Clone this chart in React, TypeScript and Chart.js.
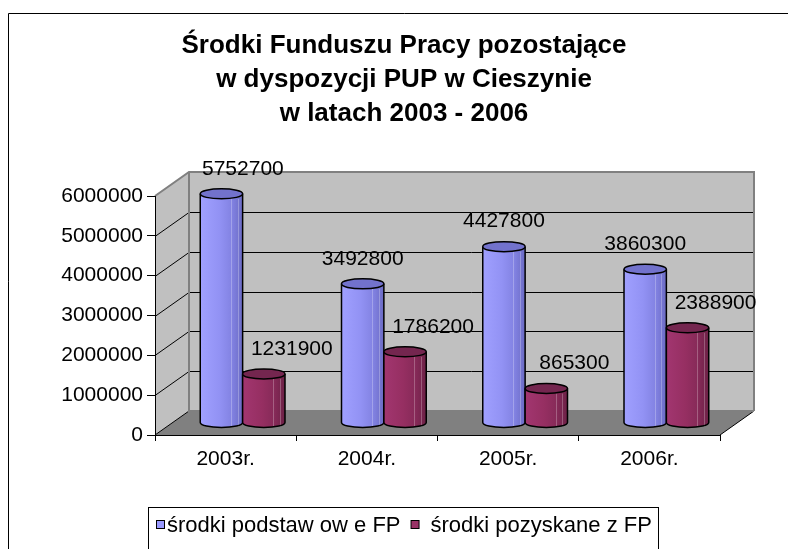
import React, { useEffect, useRef } from "react";
import { Chart, registerables } from "chart.js";

Chart.register(...registerables);

// ---- data ----
const categories = ["2003r.", "2004r.", "2005r.", "2006r."];
const seriesNames = ["środki podstaw ow e FP", "środki pozyskane z FP"];
const basicFunds = [5752700, 3492800, 4427800, 3860300];
const obtainedFunds = [1231900, 1786200, 865300, 2388900];
const yMin = 0;
const yMax = 6000000;
const yStep = 1000000;
const titleLines = [
  "Środki Funduszu Pracy pozostające",
  "w dyspozycji PUP w Cieszynie",
  "w latach 2003 - 2006",
];

// ---- styles ----
const FONT = '"Liberation Sans", Arial, sans-serif';
const W = 792;
const H = 541;
const DX = 34;
const DY = -24;
const seriesStyle = [
  { stops: ["#a0a0ff", "#9292f4", "#8282e2", "#6b6bc4"], cap: "#7272cc", legend: "#9999ff", labelDx: 0 },
  { stops: ["#a23670", "#962f62", "#862a58", "#6c2146"], cap: "#74264f", legend: "#993366", labelDx: 28 },
];

function threeDPlugin() {
  return {
    id: "threeD",
    beforeDraw(chart: any) {
      const { ctx, chartArea: a } = chart;
      const ys = chart.scales.y;
      const L = a.left, R = a.right, T = a.top, B = a.bottom;
      ctx.save();
      // outer chart border
      ctx.strokeStyle = "#000";
      ctx.lineWidth = 1;
      ctx.beginPath();
      ctx.moveTo(0.5, chart.height);
      ctx.lineTo(0.5, 5.5);
      ctx.lineTo(chart.width, 5.5);
      ctx.stroke();

      const poly = (pts: number[][], fill: string) => {
        ctx.beginPath();
        ctx.moveTo(pts[0][0], pts[0][1]);
        for (let i = 1; i < pts.length; i++) ctx.lineTo(pts[i][0], pts[i][1]);
        ctx.closePath();
        ctx.fillStyle = fill;
        ctx.fill();
      };
      // walls
      poly([[L, T], [L + DX, T + DY], [L + DX, B + DY], [L, B]], "#c0c0c0");
      poly([[L + DX, T + DY], [R + DX, T + DY], [R + DX, B + DY], [L + DX, B + DY]], "#c0c0c0");
      poly([[L, B], [L + DX, B + DY], [R + DX, B + DY], [R, B]], "#808080");

      // gridlines
      ctx.strokeStyle = "#000";
      ctx.lineWidth = 1;
      for (let v = yMin + yStep; v < yMax; v += yStep) {
        const yy = Math.round(ys.getPixelForValue(v)) + 0.5;
        ctx.beginPath();
        ctx.moveTo(L, yy);
        ctx.lineTo(L + DX, yy + DY);
        ctx.lineTo(R + DX, yy + DY);
        ctx.stroke();
      }
      // floor edges
      ctx.beginPath();
      ctx.moveTo(L, B);
      ctx.lineTo(L + DX, B + DY);
      ctx.moveTo(R, B);
      ctx.lineTo(R + DX, B + DY);
      ctx.stroke();

      // wall borders
      ctx.strokeStyle = "#808080";
      ctx.lineWidth = 2;
      ctx.beginPath();
      ctx.moveTo(L, T);
      ctx.lineTo(L + DX, T + DY);
      ctx.lineTo(R + DX, T + DY);
      ctx.lineTo(R + DX, B + DY);
      ctx.moveTo(L + DX, T + DY);
      ctx.lineTo(L + DX, B + DY);
      ctx.lineTo(R + DX, B + DY);
      ctx.stroke();

      // title
      ctx.fillStyle = "#000";
      ctx.font = `bold 26px ${FONT}`;
      ctx.textAlign = "center";
      ctx.textBaseline = "alphabetic";
      titleLines.forEach((t, i) => ctx.fillText(t, 396, 45 + i * 34));
      ctx.restore();
    },
    afterDatasetsDraw(chart: any) {
      const { ctx, chartArea: a } = chart;
      const hx = DX / 2, hy = DY / 2;
      const ry = 5;
      ctx.save();
      const labels: any[] = [];
      chart.data.datasets.forEach((ds: any, di: number) => {
        const meta = chart.getDatasetMeta(di);
        const st = seriesStyle[di];
        meta.data.forEach((el: any, i: number) => {
          const p = el.getProps(["x", "y", "base", "width"], true);
          const cx = p.x + hx;
          const top = p.y + hy;
          const bot = p.base + hy;
          const rx = p.width / 2;
          const g = ctx.createLinearGradient(cx - rx, 0, cx + rx, 0);
          g.addColorStop(0, st.stops[0]);
          g.addColorStop(0.45, st.stops[1]);
          g.addColorStop(0.75, st.stops[2]);
          g.addColorStop(1, st.stops[3]);
          ctx.beginPath();
          ctx.moveTo(cx - rx, top);
          ctx.lineTo(cx - rx, bot);
          ctx.ellipse(cx, bot, rx, ry, 0, Math.PI, 0, true);
          ctx.lineTo(cx + rx, top);
          ctx.ellipse(cx, top, rx, ry, 0, 0, Math.PI, false);
          ctx.closePath();
          ctx.fillStyle = g;
          ctx.fill();
          // facet lines
          ctx.strokeStyle = "rgba(255,255,255,0.25)";
          ctx.lineWidth = 1;
          [0.72, 0.88].forEach((f) => {
            const fx = Math.round(cx - rx + f * 2 * rx) + 0.5;
            ctx.beginPath();
            ctx.moveTo(fx, top + ry);
            ctx.lineTo(fx, bot + ry - 1);
            ctx.stroke();
          });
          ctx.strokeStyle = "#000";
          ctx.lineWidth = 1.5;
          ctx.beginPath();
          ctx.moveTo(cx - rx, top);
          ctx.lineTo(cx - rx, bot);
          ctx.ellipse(cx, bot, rx, ry, 0, Math.PI, 0, true);
          ctx.lineTo(cx + rx, top);
          ctx.stroke();
          // top cap
          ctx.beginPath();
          ctx.ellipse(cx, top, rx, ry, 0, 0, Math.PI * 2);
          ctx.fillStyle = st.cap;
          ctx.fill();
          ctx.stroke();
          labels.push({ text: String(ds.data[i]), x: cx + st.labelDx, y: top - 25 });
        });
      });
      ctx.fillStyle = "#000";
      ctx.font = `21px ${FONT}`;
      ctx.textAlign = "center";
      ctx.textBaseline = "middle";
      const minLeft = a.left + DX + 13;
      labels.forEach((l) => {
        const w = ctx.measureText(l.text).width;
        let x = l.x;
        if (x - w / 2 < minLeft) x = minLeft + w / 2;
        ctx.fillText(l.text, x, l.y);
      });
      ctx.restore();
    },
    afterDraw(chart: any) {
      const { ctx } = chart;
      ctx.save();
      // legend box
      ctx.strokeStyle = "#000";
      ctx.lineWidth = 1;
      ctx.strokeRect(140.5, 499.5, 510, 80);
      ctx.font = `22px ${FONT}`;
      ctx.textBaseline = "middle";
      ctx.textAlign = "left";
      let x = 148;
      const cy = 516;
      seriesNames.forEach((name, i) => {
        ctx.fillStyle = seriesStyle[i].legend;
        ctx.fillRect(x + 0.5, cy - 4 + 0.5, 8, 8);
        ctx.strokeStyle = "#000";
        ctx.strokeRect(x + 0.5, cy - 4 + 0.5, 8, 8);
        ctx.fillStyle = "#000";
        const tx = x + 11 + (i === 0 ? 0 : 9);
        ctx.fillText(name, tx, cy + 2);
        x = tx + ctx.measureText(name).width + 10;
      });
      ctx.restore();
    },
  };
}

export default function App() {
  const ref = useRef<HTMLCanvasElement | null>(null);
  useEffect(() => {
    if (!ref.current) return;
    const chart = new Chart(ref.current, {
      type: "bar",
      data: {
        labels: categories,
        datasets: [
          { label: seriesNames[0], data: basicFunds, backgroundColor: "rgba(0,0,0,0)", borderWidth: 0 },
          { label: seriesNames[1], data: obtainedFunds, backgroundColor: "rgba(0,0,0,0)", borderWidth: 0 },
        ],
      },
      options: {
        responsive: false,
        animation: false,
        devicePixelRatio: 1,
        layout: { padding: { left: 0, top: 188, right: W - 712, bottom: H - 427 - 40 } },
        datasets: { bar: { barPercentage: 1, categoryPercentage: 0.6 } },
        plugins: {
          legend: { display: false },
          title: { display: false },
          tooltip: { enabled: false },
        },
        scales: {
          x: {
            offset: true,
            grid: { drawOnChartArea: false, offset: true, tickLength: 6, color: "#000" },
            border: { color: "#000", width: 1 },
            ticks: { color: "#000", font: { family: FONT, size: 21 }, padding: 6, maxRotation: 0 },
            afterFit: (s: any) => { s.height = 40; },
          },
          y: {
            min: yMin,
            max: yMax,
            grid: { drawOnChartArea: false, tickLength: 8, color: "#000" },
            border: { color: "#000", width: 1 },
            ticks: {
              stepSize: yStep,
              color: "#000",
              font: { family: FONT, size: 21 },
              padding: 4,
              callback: (v: any) => String(v),
            },
            afterFit: (s: any) => { s.width = 147; },
          },
        },
      } as any,
      plugins: [threeDPlugin()],
    });
    return () => chart.destroy();
  }, []);
  return (
    <div style={{ position: "fixed", left: 8, top: 8, width: 780, height: H, overflow: "hidden", background: "#fff" }}>
      <canvas ref={ref} width={W} height={H} style={{ width: W, height: H, display: "block" }} />
    </div>
  );
}
